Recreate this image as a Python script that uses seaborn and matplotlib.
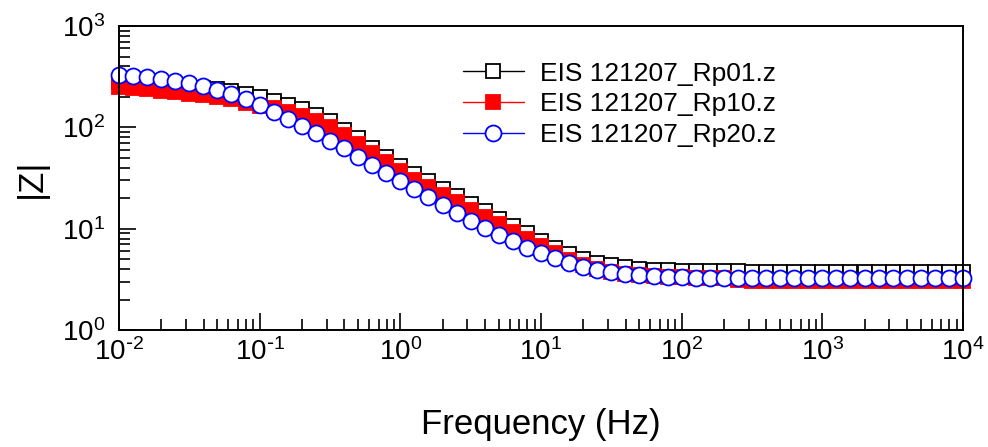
import matplotlib
matplotlib.use('Agg')
import matplotlib.pyplot as plt
import seaborn as sns
from matplotlib.ticker import LogLocator, NullFormatter, FuncFormatter

# frequencies (Hz), 10 points per decade
freq = [0.01, 0.0126, 0.0158, 0.02, 0.0251, 0.0316, 0.0398, 0.0501, 0.0631, 0.0794,
        0.1, 0.126, 0.158, 0.2, 0.251, 0.316, 0.398, 0.501, 0.631, 0.794,
        1.0, 1.26, 1.58, 2.0, 2.51, 3.16, 3.98, 5.01, 6.31, 7.94,
        10, 12.6, 15.8, 20, 25.1, 31.6, 39.8, 50.1, 63.1, 79.4,
        100, 126, 158, 200, 251, 316, 398, 501, 631, 794,
        1000, 1260, 1580, 2000, 2510, 3160, 3980, 5010, 6310, 7940,
        10000]

# |Z| (ohm)
z_rp01 = [282, 275, 269, 263, 257, 251, 245, 240, 229, 214,
          200, 182, 166, 151, 132, 115, 95, 78, 63, 51,
          42, 35, 29.5, 24.5, 20.9, 17.4, 14.8, 12.6, 10.7, 9.0,
          7.6, 6.5, 5.6, 5.0, 4.6, 4.36, 4.17, 4.03, 3.94, 3.89,
          3.85, 3.82, 3.80, 3.80, 3.79, 3.78, 3.78, 3.78, 3.78, 3.78,
          3.78, 3.78, 3.78, 3.78, 3.78, 3.78, 3.78, 3.78, 3.78, 3.78,
          3.78]
z_rp10 = [251, 245, 237, 229, 221, 214, 207, 200, 191, 172,
          162, 155, 143, 129, 115, 100, 84, 68, 56, 45,
          36.7, 30.5, 25.7, 21.4, 18.2, 15.3, 12.9, 11.0, 9.3, 7.85,
          6.7, 5.7, 4.95, 4.4, 4.0, 3.76, 3.59, 3.47, 3.39, 3.35,
          3.31, 3.29, 3.27, 3.25, 3.10, 3.08, 3.07, 3.07, 3.07, 3.07,
          3.07, 3.07, 3.07, 3.07, 3.07, 3.07, 3.07, 3.07, 3.07, 3.07,
          3.07]
z_rp20 = [331, 324, 313, 302, 288, 275, 257, 234, 214, 191,
          166, 141, 120, 102, 87, 74, 62, 51, 42.7, 35.5,
          29.5, 24.5, 20.4, 17.0, 14.3, 12.0, 10.2, 8.7, 7.5, 6.5,
          5.75, 5.13, 4.62, 4.22, 3.94, 3.72, 3.55, 3.47, 3.39, 3.35,
          3.31, 3.27, 3.26, 3.26, 3.26, 3.26, 3.26, 3.26, 3.26, 3.26,
          3.26, 3.26, 3.26, 3.26, 3.26, 3.26, 3.26, 3.26, 3.26, 3.26,
          3.26]

labels = ['EIS 121207_Rp01.z', 'EIS 121207_Rp10.z', 'EIS 121207_Rp20.z']

sns.set_style('white')
plt.rcParams['font.family'] = ['Liberation Sans', 'DejaVu Sans']
plt.rcParams['mathtext.default'] = 'regular'
plt.rcParams['text.color'] = 'black'
plt.rcParams['axes.labelcolor'] = 'black'

fig = plt.figure(figsize=(9.88, 4.47), dpi=100)
ax = fig.add_axes([0.1204, 0.2617, 0.8543, 0.6801])

common = dict(ax=ax, estimator=None, sort=False, linewidth=1, clip_on=False)
sns.lineplot(x=freq, y=z_rp01, color='black', marker='s', markersize=9.5,
             markerfacecolor='white', markeredgecolor='black', markeredgewidth=1.3,
             label=labels[0], **common)
sns.lineplot(x=freq, y=z_rp10, color='red', marker='s', markersize=9.5,
             markerfacecolor='red', markeredgecolor='red', markeredgewidth=1.3,
             label=labels[1], **common)
sns.lineplot(x=freq, y=z_rp20, color='blue', marker='o', markersize=11.5,
             markerfacecolor='white', markeredgecolor='blue', markeredgewidth=1.3,
             label=labels[2], **common)

ax.set_xscale('log')
ax.set_yscale('log')
ax.set_xlim(1e-2, 1e4)
ax.set_ylim(1, 1e3)
ax.xaxis.set_major_locator(LogLocator(base=10, numticks=10))
ax.xaxis.set_minor_locator(LogLocator(base=10, subs=range(2, 10), numticks=20))
ax.yaxis.set_minor_locator(LogLocator(base=10, subs=range(2, 10), numticks=20))
ax.xaxis.set_minor_formatter(NullFormatter())
ax.yaxis.set_minor_formatter(NullFormatter())

def pow_label(v, pos):
    e = int(round(__import__('math').log10(v)))
    if e < 0:
        return r'$10^{\text{-}%d}$' % (-e)
    return r'$10^{%d}$' % e

ax.xaxis.set_major_formatter(FuncFormatter(pow_label))
ax.yaxis.set_major_formatter(FuncFormatter(pow_label))

for s in ax.spines.values():
    s.set_linewidth(1.4)
    s.set_color('black')
ax.tick_params(which='both', direction='in', bottom=True, left=True, top=False, right=False,
               width=1.2, colors='black', labelsize=20)
ax.tick_params(which='major', length=12)
ax.tick_params(which='minor', length=8)
ax.tick_params(axis='x', pad=6)
ax.tick_params(axis='y', pad=10)

ax.set_xlabel('Frequency (Hz)', fontsize=25, labelpad=30)
ax.set_ylabel('|Z|', fontsize=25, labelpad=10)

ax.legend(loc='upper left', bbox_to_anchor=(0.4686, 0.862), bbox_transform=fig.transFigure,
          frameon=False, fontsize=19, handlelength=2.3, handletextpad=0.6,
          labelspacing=0.25, borderpad=0, borderaxespad=0)

fig.savefig('out.png', dpi=100)
